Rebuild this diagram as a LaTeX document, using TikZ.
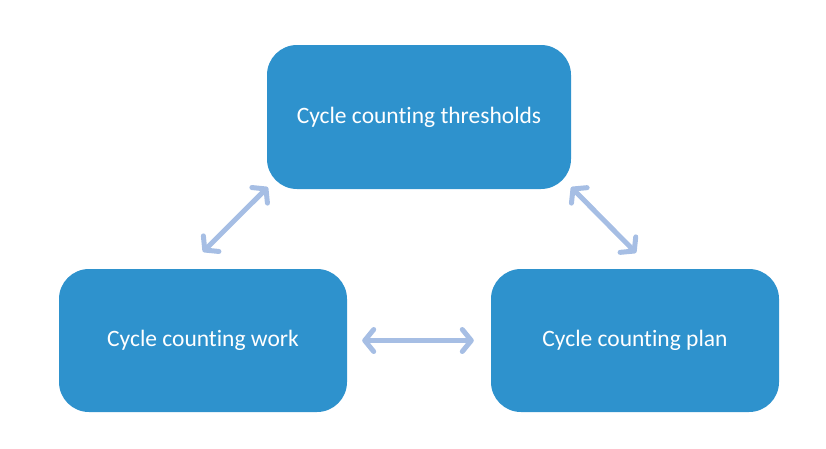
\documentclass[tikz,border=0pt]{standalone}
\usepackage{fontspec}
\setmainfont[Ligatures=NoCommon]{Carlito}
\usetikzlibrary{arrows.meta}
\definecolor{boxblue}{HTML}{2E92CD}
\definecolor{arrblue}{HTML}{A6BEE4}
\begin{document}
\begin{tikzpicture}[x=1pt,y=-1pt,
  box/.style={fill=boxblue, rounded corners=30pt, text=white, font=\fontsize{23.5}{28}\selectfont, inner sep=0pt},
  arr/.style={draw=arrblue, line width=5pt, line cap=round,
    {Straight Barb[length=9pt,width=22pt,line cap=round,line join=round]}-{Straight Barb[length=9pt,width=22pt,line cap=round,line join=round]}}]
\useasboundingbox (0,0) rectangle (826,448);
\node[box, minimum width=304pt, minimum height=144pt] (top) at (419,117) {Cycle counting thresholds};
\node[box, minimum width=288pt, minimum height=143pt] (left) at (203,340.5) {Cycle counting work};
\node[box, minimum width=288pt, minimum height=143pt] (right) at (635,340.5) {Cycle counting plan};
\draw[arr] ([yshift=17pt]left.north) -- ([shift={(1pt,2pt)}]top.south west);
\draw[arr] ([shift={(0pt,2pt)}]top.south east) -- ([shift={(1pt,16pt)}]right.north);
\draw[arr] ([xshift=15pt]left.east) -- ([xshift=-17pt]right.west);
\end{tikzpicture}
\end{document}
